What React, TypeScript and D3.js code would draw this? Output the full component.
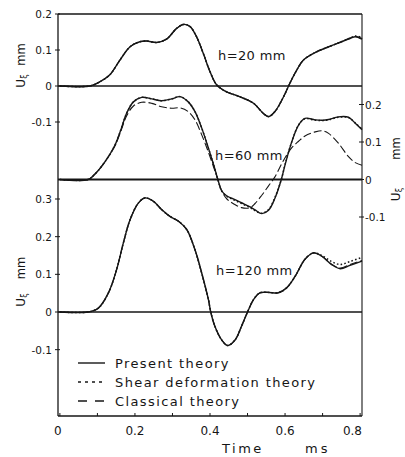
import React from 'react';
import * as d3 from 'd3';

// ---- data (time in ms, displacement U in mm) ----
const xTickValues = [0, 0.2, 0.4, 0.6, 0.8];
const xTickLabels = ['0', '0.2', '0.4', '0.6', '0.8'];
const leftTicksTop = [0.2, 0.1, 0, -0.1];
const leftTicksBottom = [0.3, 0.2, 0.1, 0, -0.1];
const rightTicksMid = [0.2, 0.1, 0, -0.1];
const panelLabels = ['h=20 mm', 'h=60 mm', 'h=120 mm'];
const legendLabels = ['Present theory', 'Shear deformation theory', 'Classical theory'];

// h = 20 mm
const t20 = [0, 0.08, 0.107, 0.133, 0.16, 0.187, 0.213, 0.231, 0.258, 0.284, 0.311, 0.329, 0.347, 0.364, 0.382, 0.4, 0.418, 0.444, 0.48, 0.516, 0.542, 0.556, 0.573, 0.596, 0.613, 0.631, 0.649, 0.684, 0.729, 0.773, 0.787, 0.805];
const present20 = [0, 0, 0.012, 0.031, 0.072, 0.109, 0.123, 0.125, 0.121, 0.13, 0.16, 0.171, 0.165, 0.137, 0.091, 0.04, 0.003, -0.016, -0.03, -0.048, -0.076, -0.085, -0.071, -0.03, 0.008, 0.044, 0.072, 0.095, 0.114, 0.132, 0.137, 0.13];
const shear20 = [0, 0, 0.012, 0.031, 0.072, 0.109, 0.123, 0.125, 0.121, 0.13, 0.16, 0.171, 0.165, 0.137, 0.091, 0.04, 0.003, -0.016, -0.03, -0.048, -0.076, -0.085, -0.071, -0.03, 0.008, 0.044, 0.072, 0.095, 0.114, 0.133, 0.139, 0.134];
const classical20 = [0, 0, 0.012, 0.031, 0.072, 0.109, 0.123, 0.125, 0.121, 0.13, 0.16, 0.171, 0.165, 0.137, 0.091, 0.04, 0.003, -0.016, -0.03, -0.048, -0.076, -0.085, -0.071, -0.03, 0.008, 0.044, 0.072, 0.095, 0.114, 0.133, 0.138, 0.132];

// h = 60 mm
const t60 = [0, 0.075, 0.093, 0.12, 0.147, 0.164, 0.178, 0.196, 0.218, 0.245, 0.271, 0.298, 0.32, 0.342, 0.36, 0.378, 0.396, 0.41, 0.421, 0.431, 0.445, 0.465, 0.484, 0.507, 0.52, 0.538, 0.556, 0.573, 0.59, 0.6, 0.618, 0.636, 0.653, 0.68, 0.7, 0.716, 0.742, 0.769, 0.787, 0.805];
const present60 = [0, 0, 0.014, 0.047, 0.092, 0.137, 0.177, 0.207, 0.219, 0.215, 0.21, 0.215, 0.221, 0.207, 0.181, 0.137, 0.083, 0.038, 0, -0.03, -0.044, -0.053, -0.062, -0.073, -0.081, -0.091, -0.082, -0.05, 0, 0.039, 0.101, 0.145, 0.163, 0.159, 0.158, 0.16, 0.167, 0.166, 0.15, 0.133];
const shear60 = [0, 0, 0.014, 0.047, 0.092, 0.137, 0.177, 0.207, 0.219, 0.215, 0.21, 0.215, 0.221, 0.207, 0.181, 0.137, 0.083, 0.038, 0, -0.03, -0.045, -0.055, -0.064, -0.075, -0.083, -0.09, -0.08, -0.048, 0, 0.04, 0.101, 0.145, 0.162, 0.158, 0.157, 0.159, 0.166, 0.165, 0.151, 0.134];
const classical60 = [0, 0, 0.014, 0.047, 0.09, 0.133, 0.17, 0.196, 0.206, 0.203, 0.194, 0.19, 0.191, 0.181, 0.159, 0.119, 0.072, 0.032, 0, -0.03, -0.052, -0.066, -0.075, -0.075, -0.064, -0.042, -0.017, 0.007, 0.04, 0.058, 0.085, 0.102, 0.116, 0.127, 0.13, 0.123, 0.097, 0.061, 0.045, 0.038];

// h = 120 mm
const t120 = [0, 0.075, 0.102, 0.129, 0.151, 0.169, 0.187, 0.209, 0.227, 0.249, 0.271, 0.293, 0.316, 0.338, 0.36, 0.378, 0.396, 0.402, 0.413, 0.431, 0.447, 0.467, 0.484, 0.5, 0.516, 0.533, 0.556, 0.582, 0.604, 0.627, 0.653, 0.676, 0.698, 0.724, 0.747, 0.773, 0.805];
const present120 = [0, 0, 0.01, 0.05, 0.112, 0.183, 0.245, 0.289, 0.303, 0.294, 0.272, 0.254, 0.241, 0.219, 0.165, 0.103, 0.032, 0, -0.038, -0.074, -0.089, -0.074, -0.038, 0, 0.033, 0.051, 0.052, 0.051, 0.064, 0.095, 0.14, 0.157, 0.148, 0.126, 0.115, 0.124, 0.135];
const shear120 = [0, 0, 0.01, 0.05, 0.112, 0.183, 0.245, 0.289, 0.303, 0.294, 0.272, 0.254, 0.241, 0.219, 0.165, 0.103, 0.032, 0, -0.038, -0.074, -0.089, -0.074, -0.038, 0, 0.033, 0.051, 0.052, 0.051, 0.064, 0.095, 0.14, 0.157, 0.15, 0.134, 0.126, 0.134, 0.145];
const classical120 = [0, 0, 0.01, 0.05, 0.112, 0.183, 0.245, 0.289, 0.303, 0.294, 0.272, 0.254, 0.241, 0.219, 0.165, 0.103, 0.032, 0, -0.038, -0.074, -0.089, -0.074, -0.038, 0, 0.033, 0.051, 0.052, 0.051, 0.064, 0.095, 0.14, 0.157, 0.148, 0.127, 0.117, 0.126, 0.137];

const INK = '#161616';
const FONT = '"DejaVu Sans", "Liberation Sans", sans-serif';

const x = d3.scaleLinear().domain([-0.005, 0.805]).range([58, 362]);
const y20 = d3.scaleLinear().domain([0, 0.2]).range([86, 14]);
const y60 = d3.scaleLinear().domain([0, 0.2]).range([179.5, 104.5]);
const y120 = d3.scaleLinear().domain([0, 0.3]).range([312, 199]);

const styles = [
  { dash: undefined as string | undefined, width: 1.4 },
  { dash: '1.6,2.2', width: 1.5 },
  { dash: '8,3', width: 1.1 },
];

function pathFor(ts: number[], vs: number[], ys: d3.ScaleLinear<number, number>) {
  const gen = d3
    .line<number>()
    .x((_, i) => x(ts[i]))
    .y((v) => ys(v))
    .curve(d3.curveCatmullRom.alpha(0.5));
  return gen(vs) || '';
}

function UmmLabel({ cx, mmY, uY }: { cx: number; mmY: number; uY: number }) {
  return (
    <g fill={INK} fontFamily={FONT}>
      <text transform={`translate(${cx},${mmY}) rotate(-90)`} textAnchor="middle" dominantBaseline="central" fontSize={11.5}>
        mm
      </text>
      <text transform={`translate(${cx},${uY}) rotate(-90)`} textAnchor="middle" dominantBaseline="central" fontSize={12}>
        U
        <tspan fontSize={8} dy={3}>ξ</tspan>
      </text>
    </g>
  );
}

export default function App() {
  const panels = [
    { t: t20, series: [present20, shear20, classical20], ys: y20 },
    { t: t60, series: [present60, shear60, classical60], ys: y60 },
    { t: t120, series: [present120, shear120, classical120], ys: y120 },
  ];
  const left = 58, right = 362, top = 14, bottom = 416;
  const minorX = d3.range(0, 0.81, 0.1);

  return (
    <svg
      width={405}
      height={457}
      viewBox="0 0 405 457"
      style={{ position: 'absolute', left: 0, top: 0, background: '#fff' }}
    >
      <rect x={0} y={0} width={405} height={457} fill="#fff" />
      {/* frame */}
      <g stroke={INK} fill="none">
        <line x1={left} x2={right} y1={top} y2={top} strokeWidth={1.4} />
        <line x1={left} x2={right} y1={bottom} y2={bottom} strokeWidth={1.4} />
        <line x1={left} x2={left} y1={top} y2={bottom} strokeWidth={1.3} />
        <line x1={right} x2={right} y1={top} y2={bottom} strokeWidth={1.1} />
        {/* zero lines */}
        <line x1={left} x2={right} y1={y20(0)} y2={y20(0)} strokeWidth={1.5} />
        <line x1={left} x2={right} y1={y60(0)} y2={y60(0)} strokeWidth={2} />
        <line x1={left} x2={right} y1={y120(0)} y2={y120(0)} strokeWidth={1.4} />
        {/* left ticks */}
        {leftTicksTop.map((v) => (
          <line key={'lt' + v} x1={left - 3} x2={left + 2} y1={y20(v)} y2={y20(v)} strokeWidth={1} />
        ))}
        {leftTicksBottom.map((v) => (
          <line key={'lb' + v} x1={left - 3} x2={left + 2} y1={y120(v)} y2={y120(v)} strokeWidth={1} />
        ))}
        {rightTicksMid.map((v) => (
          <line key={'rm' + v} x1={right - 3} x2={right + 2} y1={y60(v)} y2={y60(v)} strokeWidth={1} />
        ))}
        {minorX.map((v) => (
          <line key={'bx' + v} x1={x(v)} x2={x(v)} y1={bottom} y2={bottom - 3} strokeWidth={1} />
        ))}
      </g>

      {/* tick labels */}
      <g fill={INK} fontFamily={FONT} fontSize={10.5}>
        {leftTicksTop.map((v) => (
          <text key={'tlt' + v} x={52} y={y20(v)} textAnchor="end" dominantBaseline="central">
            {v === 0 ? '0' : v.toFixed(1)}
          </text>
        ))}
        {leftTicksBottom.map((v) => (
          <text key={'tlb' + v} x={52} y={y120(v)} textAnchor="end" dominantBaseline="central">
            {v === 0 ? '0' : v.toFixed(1)}
          </text>
        ))}
        {rightTicksMid.map((v) => (
          <text key={'trm' + v} x={365} y={y60(v)} textAnchor="start" dominantBaseline="central">
            {v === 0 ? '0' : v.toFixed(1)}
          </text>
        ))}
      </g>
      <g fill={INK} fontFamily={FONT} fontSize={12}>
        {xTickValues.map((v, i) => (
          <text
            key={'xt' + v}
            x={i === xTickValues.length - 1 ? right : x(v) - (i === 0 ? 2 : 0)}
            y={435}
            textAnchor={i === xTickValues.length - 1 ? 'end' : 'middle'}
          >
            {xTickLabels[i]}
          </text>
        ))}
        <text x={222} y={453} fontSize={13} letterSpacing={2.5}>Time</text>
        <text x={305} y={453} fontSize={13} letterSpacing={3}>ms</text>
      </g>

      {/* axis titles */}
      <UmmLabel cx={21} mmY={54.5} uY={81} />
      <UmmLabel cx={21} mmY={268} uY={300} />
      <UmmLabel cx={396} mmY={148.5} uY={194.5} />

      {/* curves */}
      <g fill="none" stroke={INK} strokeLinejoin="round">
        {panels.map((p, pi) =>
          p.series.map((vs, si) => (
            <path
              key={`c${pi}-${si}`}
              d={pathFor(p.t, vs, p.ys)}
              strokeWidth={styles[si].width}
              strokeDasharray={styles[si].dash}
            />
          ))
        )}
      </g>

      {/* panel labels */}
      <g fill={INK} fontFamily={FONT} fontSize={13} letterSpacing={0.4}>
        <text x={218} y={60}>{panelLabels[0]}</text>
        <text x={215} y={160}>{panelLabels[1]}</text>
        <text x={216} y={275}>{panelLabels[2]}</text>
      </g>

      {/* legend */}
      <g>
        {legendLabels.map((lab, i) => (
          <g key={lab}>
            <line
              x1={78}
              x2={105}
              y1={363 + i * 19}
              y2={363 + i * 19}
              stroke={INK}
              strokeWidth={1.4}
              strokeDasharray={i === 0 ? undefined : i === 1 ? '3,4' : '9,8'}
            />
            <text x={115} y={367.5 + i * 19} fill={INK} fontFamily={FONT} fontSize={13} letterSpacing={1.4}>
              {lab}
            </text>
          </g>
        ))}
      </g>
    </svg>
  );
}
